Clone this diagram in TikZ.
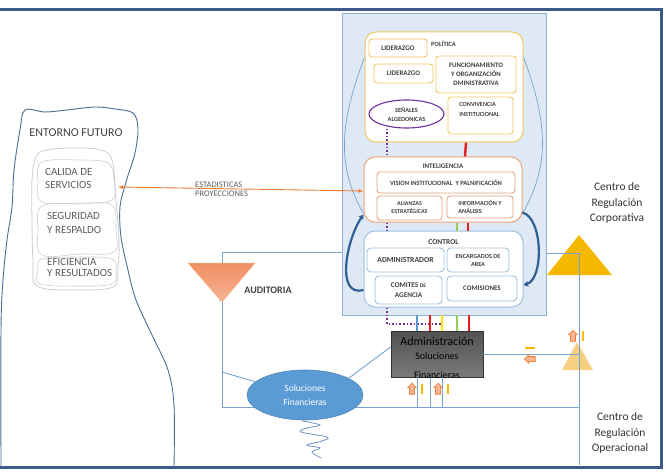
\documentclass[tikz,border=0pt]{standalone}
\usepackage{fontspec}
\setmainfont{Carlito}
\usepackage{tikz}
\usetikzlibrary{arrows.meta,positioning,calc,shapes.geometric,shapes.arrows}
\definecolor{framenavy}{RGB}{59,91,140}
\definecolor{panelfill}{RGB}{223,233,245}
\definecolor{panelline}{RGB}{141,179,218}
\definecolor{wireblue}{RGB}{120,163,209}
\definecolor{arcnavy}{RGB}{46,96,149}
\definecolor{goldline}{RGB}{242,200,92}
\definecolor{orangeline}{RGB}{232,165,122}
\definecolor{ctrlline}{RGB}{157,191,224}
\definecolor{algpurple}{RGB}{112,48,160}
\definecolor{linkorange}{RGB}{237,125,49}
\definecolor{sigred}{RGB}{230,30,30}
\definecolor{siggreen}{RGB}{146,208,80}
\definecolor{sigyellow}{RGB}{245,230,0}
\definecolor{sigblue}{RGB}{91,155,213}
\definecolor{goldtri}{RGB}{245,184,0}
\definecolor{goldsoft}{RGB}{247,200,110}
\definecolor{audlight}{RGB}{246,180,148}
\definecolor{auddark}{RGB}{239,143,99}
\definecolor{solblue}{RGB}{91,155,213}
\definecolor{textgrey}{RGB}{64,64,64}
\definecolor{softgrey}{RGB}{200,205,212}
\definecolor{entline}{RGB}{74,108,149}
\tikzset{
  base/.style={font=\bfseries\fontsize{7}{8.5}\selectfont, align=center, inner sep=1pt, text=textgrey},
  box/.style={base, rectangle, rounded corners=3pt, fill=white, line width=0.9pt},
  ybox/.style={box, draw=goldline},
  obox/.style={box, draw=orangeline},
  cbox/.style={box, draw=ctrlline, rounded corners=4pt},
  grp/.style={rectangle, rounded corners=11pt, fill=white, draw=#1, line width=1pt, inner sep=0pt},
  grptitle/.style={base, anchor=north, inner sep=0pt},
  panel/.style={rectangle, fill=panelfill, draw=panelline, line width=0.8pt, inner sep=0pt},
  algell/.style={base, ellipse, draw=algpurple, fill=white, line width=1.1pt, inner sep=0pt, font=\bfseries\fontsize{6.3}{9}\selectfont},
  admbox/.style={rectangle, draw=black!80, line width=0.8pt, top color=black!68, bottom color=black!52, inner sep=0pt},
  solell/.style={ellipse, fill=solblue, draw=solblue!85!black, line width=0.6pt, text=white, font=\fontsize{9.5}{14}\selectfont, align=center, inner sep=0pt},
  wire/.style={draw=wireblue, line width=0.9pt},
  sig/.style={line width=2.4pt, draw=#1},
  dotl/.style={draw=algpurple, line width=1.8pt, dash pattern=on 1.6pt off 2pt},
  arcthin/.style={draw=wireblue, line width=0.7pt},
  arcthick/.style={draw=arcnavy, line width=2.2pt, -{Stealth[length=5pt,width=6pt]}},
  arro/.style={draw=linkorange, line width=0.9pt, {Latex[length=5pt,width=4pt]}-{Latex[length=5pt,width=4pt]}},
  uparr/.style={single arrow, shape border rotate=90, fill=audlight, draw=linkorange, line width=0.6pt, minimum height=11pt, inner sep=2.2pt, single arrow head extend=1.8pt},
  ymark/.style={draw=goldtri, line width=2pt},
  lbl/.style={font=\fontsize{11}{13}\selectfont, text=textgrey!85, align=left, inner sep=0pt},
  side/.style={font=\fontsize{11.5}{15.5}\selectfont, text=black!80, align=center, inner sep=0pt},
}

\begin{document}
\begin{tikzpicture}[x=1pt, y=-1pt]
  \useasboundingbox (0,0) rectangle (666,473);
  % entorno futuro
  \draw[entline, line width=0.9pt] plot[smooth, tension=0.55] coordinates {(1,467) (1,330) (3,280) (7,240) (12,207) (14,170) (20,130) (25,110) (45,112) (67,110) (95,107) (115,109) (133,113) (138,128) (135,153) (126,182) (120,207) (121,237) (128,270) (136,300) (152,335) (168,370) (174,405) (174,467)};
  \draw[softgrey, line width=0.8pt] plot[smooth cycle, tension=0.6] coordinates {(47,150) (75,148) (100,150) (112,160) (116,200) (119,240) (118,268) (113,287) (75,290) (37,286) (33,260) (32,220) (32,180) (36,157)};
  \draw[softgrey, line width=0.6pt] plot[smooth cycle, tension=0.6] coordinates {(42,162) (80,160) (108,163) (114,180) (112,200) (80,203) (42,202) (38,182)};
  \draw[softgrey, line width=0.6pt] plot[smooth cycle, tension=0.6] coordinates {(42,206) (80,204) (112,205) (116,230) (114,252) (80,254) (42,255) (38,230)};
  \draw[softgrey, line width=0.6pt] plot[smooth cycle, tension=0.6] coordinates {(42,259) (80,257) (112,259) (116,272) (112,284) (80,286) (40,284) (38,270)};
  \node[lbl, font=\fontsize{12}{13}\selectfont, text=textgrey] (entlbl) at (76,133) {ENTORNO FUTURO};
  \node[lbl, anchor=west] (calid) at (45,178.5) {CALIDA DE\\SERVICIOS};
  \node[lbl, anchor=west, font=\fontsize{11}{14}\selectfont] (segur) at (47,223) {SEGURIDAD\\Y RESPALDO};
  \node[lbl, anchor=west, font=\fontsize{11}{11.5}\selectfont] (efic) at (47,267.5) {EFICIENCIA\\Y RESULTADOS};

  % panel central
  \node[panel, minimum width=204pt, minimum height=302pt] (panel) at (444,164) {};
  \node[grp=goldline, minimum width=158pt, minimum height=110pt] (polit) at (444,87) {};
  \node[grp=orangeline, minimum width=158pt, minimum height=65pt,
        label={[grptitle, yshift=-7pt]north:INTELIGENCIA}] (intel) at (443,189.5) {};
  \node[grp=ctrlline, minimum width=159pt, minimum height=76pt,
        label={[grptitle, font=\bfseries\fontsize{7.5}{8}\selectfont, yshift=-8.5pt]north:CONTROL}] (ctrl) at (443.5,269) {};
  \draw[arcthin] ([yshift=30pt]polit.west) to[out=250, in=120] ([yshift=-24pt]intel.west);
  \draw[arcthin] ([yshift=30pt]polit.east) to[out=-70, in=60] ([yshift=-24pt]intel.east);
  \draw[arcthick] ([yshift=-21pt]ctrl.west) to[out=195, in=235, looseness=1.0] ([yshift=-25pt]intel.west);
  \draw[arcthick] ([yshift=-23pt]intel.east) to[out=-15, in=15, looseness=0.75] ([yshift=-16pt]ctrl.east);

  \node[ybox, minimum width=58pt, minimum height=18pt] (lid1) at (398,48) {LIDERAZGO};
  \node[base, anchor=west, font=\bfseries\fontsize{6.5}{7}\selectfont] (politlbl) at (430,44) {POLÍTICA};
  \node[ybox, minimum width=59pt, minimum height=19pt] (lid2) at (403.5,73.5) {LIDERAZGO};
  \node[ybox, minimum width=80pt, minimum height=37pt, font=\bfseries\fontsize{6.8}{9.2}\selectfont] (func) at (476,74.5) {FUNCIONAMIENTO\\Y ORGANIZACIÓN\\DMINISTRATIVA};
  \node[algell, minimum width=75pt, minimum height=28pt] (senal) at (406.5,114) {SEÑALES\\ALGEDONICAS};
  \node[ybox, minimum width=65pt, minimum height=37pt,
        label={[grptitle, align=left, font=\bfseries\fontsize{6.2}{10}\selectfont, yshift=-6pt, xshift=-1pt]north:CONVIVENCIA\\INSTITUCIONAL}] (conv) at (480.5,115.5) {};

  \node[obox, minimum width=138pt, minimum height=21pt, font=\bfseries\fontsize{6.5}{8}\selectfont] (vision) at (446,182.5) {VISION INSTITUCIONAL\ \ Y PALNIFICACIÓN};
  \node[obox, minimum width=65pt, minimum height=24pt, font=\bfseries\fontsize{6}{8}\selectfont] (alian) at (409.5,208) {ALIANZAS\\ESTRATÉGICAS};
  \node[obox, minimum width=66pt, minimum height=22pt, align=left, font=\bfseries\fontsize{6.2}{8}\selectfont] (info) at (480,207) {INFORMACIÓN Y\\ANÁLISIS};

  \node[cbox, minimum width=77pt, minimum height=24pt, font=\bfseries\fontsize{7.7}{9}\selectfont] (admr) at (405.5,260) {ADMINISTRADOR};
  \node[cbox, minimum width=62pt, minimum height=24pt, font=\bfseries\fontsize{6.2}{8}\selectfont] (encar) at (478,260) {ENCARGADOS DE\\AREA};
  \node[cbox, minimum width=67pt, minimum height=28pt, font=\bfseries\fontsize{7.2}{10.5}\selectfont] (comit) at (408.5,290) {COMITES {\fontsize{5.5}{6}\selectfont DE}\\AGENCIA};
  \node[cbox, minimum width=70pt, minimum height=25pt, font=\bfseries\fontsize{7}{8}\selectfont] (comis) at (482,288.5) {COMISIONES};

  % enlaces de color
  \coordinate (dotx) at (387,0);
  \coordinate (dotend) at (442,324);
  \draw[sig=sigred] ([xshift=22pt]polit.south) -- ([xshift=22pt]intel.north);
  \draw[sig=siggreen] ([xshift=14pt]intel.south) -- ([xshift=13.5pt]ctrl.north);
  \draw[sig=sigred] ([xshift=25pt]intel.south) -- ([xshift=24.5pt]ctrl.north);
  \draw[dotl] (senal.south -| dotx) -- (intel.north -| dotx);
  \draw[dotl] (intel.south -| dotx) -- (ctrl.north -| dotx);
  \draw[dotl] (ctrl.south -| dotx) |- (dotend);

  % regulacion
  \coordinate (audtop) at (222,252);
  \coordinate (audmid) at (222,372);
  \coordinate (audbot) at (222,407);
  \coordinate (rtop) at (579,253);
  \coordinate (rbot) at (579,465);
  \fill[goldtri] (547,275) -- (612,275) -- (579,235) -- cycle;
  \fill[goldsoft, opacity=0.85] (562,370) -- (593,370) -- (577,342) -- cycle;
  \node[admbox, minimum width=92pt, minimum height=46pt] (adm) at (437,354) {};
  \draw[wire] (audtop -| panel.west) -- (audtop) -- (audbot) -- (audbot -| rtop);
  \draw[wire] (rtop -| panel.east) -- (rtop) -- (rbot);
  \draw[wire] (adm.east) -- (adm.east -| rtop);
  \foreach \dx in {-20,-7,5}
    \draw[wire] ($(adm.south)+(\dx,0)$) -- ($(adm.south |- audbot)+(\dx,0)$);
  \foreach \dx/\c in {-20/sigblue, -7/sigred, 5/sigyellow, 20/siggreen, 32/sigred}
    \draw[sig=\c] ($(adm.north)+(\dx,0)$) -- ($(adm.north |- panel.south)+(\dx,0)$);
  \shade[top color=auddark, bottom color=audlight, draw=audlight!90!orange, line width=0.5pt] (188,263) -- (255,263) -- (222,302) -- cycle;
  \node[base, font=\bfseries\fontsize{10}{11}\selectfont] (aud) at (268,290) {AUDITORIA};

  \node[solell, minimum width=116pt, minimum height=50pt] (sol) at (305,395) {Soluciones\\Financieras};
  \draw[wire] (audmid) -- (sol.165);
  \draw[wire] (sol.21) -- ([yshift=7pt]adm.west);
  \draw[wireblue!90!black, line width=0.8pt] plot[smooth, tension=0.6] coordinates {(302,421) (320,425) (307,428) (301,432) (327,437) (322,441) (307,445) (320,448) (312,452) (321,458)};

  \begin{scope}
    \clip (adm.south west) rectangle (adm.north east);
    \node[font=\fontsize{10}{14}\selectfont, align=center, text=black, anchor=north, inner sep=0pt] (admtxt) at ([yshift=-6.5pt]adm.north) {{\fontsize{12}{14}\selectfont Administración}\\Soluciones\\[5pt]Financieras};
  \end{scope}

  \node[uparr] (ua1) at (412,390) {};
  \node[uparr] (ua2) at (438,390) {};
  \node[uparr] (ua3) at (573,337) {};
  \node[uparr, shape border rotate=180] (la) at (531,359) {};
  \draw[ymark] ([xshift=10pt,yshift=-1pt]ua1.north) -- ([xshift=10pt,yshift=1pt]ua1.south);
  \draw[ymark] ([xshift=10pt,yshift=-1pt]ua2.north) -- ([xshift=10pt,yshift=1pt]ua2.south);
  \draw[ymark] ([xshift=10pt,yshift=-1pt]ua3.north) -- ([xshift=10pt,yshift=1pt]ua3.south);
  \draw[ymark] ([yshift=11pt,xshift=1pt]la.west) -- ([yshift=11pt,xshift=-1pt]la.east);

  \node[side] (corp) at (617,203) {Centro de\\Regulación\\Corporativa};
  \node[side] (oper) at (620,433) {Centro de\\Regulación\\Operacional};

  % estadisticas
  \coordinate (ent) at (118,187);
  \draw[arro] (ent) -- ([yshift=-1.5pt]intel.west);
  \node[lbl, anchor=west, font=\fontsize{8.5}{9.5}\selectfont] (stat) at (195,189.5) {ESTADISTICAS\\PROYECCIONES};

  % marco
  \draw[framenavy, line width=3pt] (0,10) -| (661,467) -- (0,467);
\end{tikzpicture}
\end{document}
